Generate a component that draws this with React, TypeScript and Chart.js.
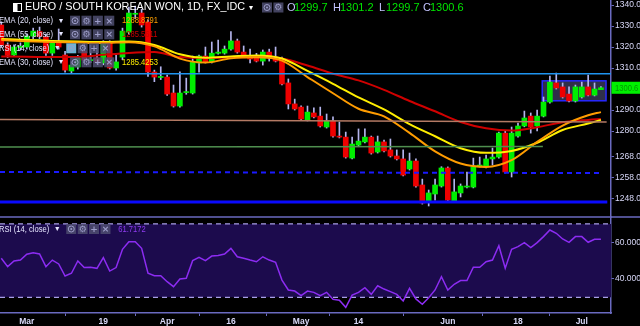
import React, { useEffect, useRef } from 'react';
import { Chart, registerables } from 'chart.js';

Chart.register(...registerables);

// ---- data (index 0 = 23 Feb 2018, daily, weekdays) ----
const openPrices = [
  1330.5, 1321, 1316.2, 1319.8, 1320, 1325.2, 1327.4, 1324.8, 1317.1, 1322.4,
  1316.2, 1308.6, 1310.5, 1318, 1313.5, 1314.8, 1312.4, 1321.9, 1310, 1315.2,
  1327.1, 1335.6, 1336.2, 1331.9, 1308.1, 1305.5, 1305.7, 1298.1, 1291.9, 1298.3,
  1298.1, 1312.4, 1315.7, 1312.9, 1317, 1317.1, 1319, 1322.9, 1317.6, 1315.2,
  1315.2, 1313.3, 1317.6, 1315.2, 1314.3, 1302.9, 1292.9, 1291.4, 1285.2, 1288.6,
  1287.1, 1281.9, 1284.8, 1277.6, 1277.1, 1267.1, 1273.3, 1274.8, 1277.1, 1270,
  1274.8, 1271, 1268.1, 1266.7, 1261.9, 1265.7, 1254.3, 1246.2, 1250, 1253.8,
  1262.4, 1246.7, 1250.5, 1253.3, 1253.3, 1263.3, 1262.9, 1266.7, 1267.6, 1279,
  1260.5, 1277.6, 1282.4, 1287.1, 1282.4, 1287.1, 1293.8, 1302.9, 1301, 1297.6,
  1294.3, 1296.2, 1301, 1297.1, 1299.7,
];
const highPrices = [
  1332, 1322, 1321, 1322, 1326, 1329, 1329.5, 1326, 1323, 1328.6,
  1318, 1313, 1316, 1322, 1321, 1321, 1323, 1323, 1316, 1329,
  1339, 1339.5, 1338, 1333, 1309, 1310.6, 1306.6, 1301.9, 1308.2, 1305.2,
  1315.7, 1316.2, 1320, 1322.4, 1323.3, 1320.5, 1327.3, 1323.8, 1320.5, 1319,
  1317, 1318.6, 1319, 1320, 1315.2, 1304.8, 1295.2, 1292, 1291.9, 1291,
  1291.4, 1288.1, 1286.7, 1284.3, 1279.5, 1277.1, 1281, 1281, 1277.6, 1277.6,
  1275.7, 1276.2, 1271, 1271, 1269.5, 1266.7, 1257.1, 1251.9, 1257.1, 1263,
  1262.9, 1257.1, 1254.8, 1260.5, 1267.1, 1267.6, 1268.6, 1271.9, 1279.5, 1280,
  1281.9, 1283.8, 1289.5, 1288.6, 1290, 1296.2, 1306.2, 1307.6, 1302.9, 1301,
  1301.9, 1303.3, 1306.7, 1302.9, 1301.2,
];
const lowPrices = [
  1320, 1315, 1315.5, 1318.5, 1319, 1324, 1324, 1316, 1316, 1319,
  1308, 1307.5, 1309.5, 1313, 1312.5, 1312, 1311.5, 1309.5, 1309, 1314,
  1326, 1333.5, 1329.5, 1306, 1303.5, 1304.5, 1297, 1291.4, 1291.4, 1297.5,
  1297.6, 1308, 1312.4, 1312.4, 1316.6, 1316.6, 1318.5, 1317.1, 1315.2, 1312.4,
  1312.9, 1311.4, 1313.3, 1312.9, 1301.9, 1290.5, 1290, 1285.2, 1284.8, 1286.2,
  1281.9, 1281.4, 1277.1, 1276.7, 1267.1, 1266.7, 1272.9, 1274.3, 1269, 1269.5,
  1270, 1267.6, 1266.2, 1258.6, 1261.4, 1253.3, 1245.2, 1244.3, 1247.1, 1253.3,
  1246.7, 1246.2, 1248.6, 1252.9, 1252.9, 1262.9, 1262.4, 1263.8, 1267.1, 1260,
  1258.1, 1277.1, 1282, 1279, 1280, 1286.7, 1293.3, 1300, 1295.7, 1293.8,
  1293.8, 1295.7, 1296.7, 1296.7, 1299.7,
];
const closePrices = [
  1321, 1316, 1320, 1320.4, 1325.2, 1327.6, 1325, 1317.1, 1321.9, 1320,
  1309, 1311.4, 1314.8, 1313.8, 1314, 1312.9, 1321.9, 1310, 1312.9, 1327.6,
  1336.2, 1336, 1330.5, 1308.1, 1305.7, 1305.9, 1297.6, 1291.9, 1298.1, 1298.6,
  1312.9, 1315.7, 1312.9, 1317.1, 1317.6, 1319, 1322.9, 1317.6, 1315.7, 1314.3,
  1313.3, 1317.6, 1315.7, 1313.3, 1302.4, 1292.9, 1290.5, 1285.7, 1289, 1286.7,
  1282.4, 1284.8, 1277.6, 1277.1, 1267.6, 1273.8, 1275.2, 1277.1, 1269.5, 1274.8,
  1270.5, 1268.1, 1266.7, 1259, 1265.7, 1253.8, 1245.7, 1250.5, 1254.3, 1262.4,
  1247.1, 1251, 1253.8, 1253.8, 1262.9, 1263.8, 1266.7, 1267.6, 1279, 1260.5,
  1279, 1282.4, 1286.2, 1281.9, 1287.1, 1293.8, 1303.3, 1300.5, 1296.2, 1294.3,
  1301, 1301, 1297.1, 1300, 1300.6,
];
const rsiValues = [
  51.3, 46.7, 49.8, 50.3, 53.5, 54.3, 53.6, 46.7, 50.3, 48.2,
  41.6, 43.1, 49.8, 46.2, 46.4, 45.8, 51.6, 44.3, 46.2, 56.2,
  60.3, 60.3, 56.7, 43.1, 41.8, 41.8, 38.5, 35.8, 40, 40.4,
  50, 51.8, 50, 52.5, 52.8, 53.6, 56.7, 52.1, 51.3, 50.3,
  49.4, 52.1, 50.3, 49.1, 39.4, 34, 33.4, 30.9, 33.4, 32.7,
  30.9, 32.7, 28.9, 28.4, 24.5, 31.2, 32.7, 35.2, 31.6, 36.3,
  34.5, 33.1, 31.6, 28, 34.9, 29.1, 26.2, 29.8, 34, 41.2,
  34, 37.1, 39.1, 39.1, 46.4, 46.4, 49.4, 50.3, 58.1, 45.8,
  56.2, 57.6, 59.8, 57.1, 59.8, 63.1, 66.7, 64.9, 61.8, 60,
  63.1, 63.1, 60, 61.6, 61.7,
];

const emaIndices = [0, 4, 8, 12, 16, 20, 24, 28, 32, 36, 40, 44, 48, 52, 56, 60, 64, 68, 72, 76, 80, 84, 88, 92, 94];
const ema20 = [1323.3, 1322.8, 1322.4, 1322.1, 1321.9, 1322.3, 1320.3, 1314.5, 1312.6, 1314.6, 1315.1, 1313.5, 1305.7, 1298, 1290.6, 1287, 1279.1, 1270.3, 1264.5, 1262.9, 1266.1, 1274.8, 1282.6, 1287.5, 1289];
const ema30 = [1323.8, 1323.4, 1322.9, 1322.6, 1322.4, 1322.6, 1321, 1316.6, 1314.9, 1315.5, 1316, 1314.5, 1308.6, 1302.5, 1296, 1290.3, 1283.3, 1277.5, 1271.8, 1269.6, 1270.5, 1274.4, 1280.5, 1283.6, 1285.3];
const ema55 = [1315.5, 1315.4, 1315.2, 1315.3, 1316.3, 1317.2, 1317.6, 1315.2, 1314.8, 1315, 1315.2, 1314.5, 1311.2, 1307.3, 1304.1, 1299.6, 1294.3, 1289.4, 1284.3, 1281.3, 1280.2, 1281.8, 1284.2, 1285.3, 1285.7];
const emaLegendValues = ['1288.8791', '1285.5611', '1285.4253'];
const rsiLegendValue = '61.7172';

const tickIndices = [4, 16, 26, 36, 47, 56, 70, 81, 91];
const tickLabels = ['Mar', '19', 'Apr', '16', 'May', '14', 'Jun', '18', 'Jul'];
const priceTicks = [1248, 1258, 1268, 1280, 1290, 1310, 1320, 1330, 1340];
const rsiTicks = [40, 60];
const rsiBand = [30, 70];

// drawn horizontal levels: start value, end value, end index
const levelStart = [1307.3, 1285.5, 1272.4, 1260.5, 1246.2];
const levelEnd = [1307.3, 1284.3, 1272.6, 1260.0, 1246.2];
const levelEndIndex = [95.6, 94.9, 84.9, 93.9, 95.0];
const zoneIndex = [84.8, 94.8];
const zonePrice = [1294.4, 1303.9];

const X_MIN = -0.2;
const X_MAX = 95.58;

const SANS = "'Liberation Sans', Arial, sans-serif";
const AXIS = '#6a6ac0';
const TXT = '#d8d8f8';
const NARROW_K = 0.8;

function narrowText(ctx: CanvasRenderingContext2D, text: string, x: number, y: number): number {
  ctx.save();
  ctx.translate(x, y);
  ctx.scale(NARROW_K, 1);
  ctx.fillText(text, 0, 0);
  const w = ctx.measureText(text).width * NARROW_K;
  ctx.restore();
  return w;
}

function drawBoxes(ctx: CanvasRenderingContext2D, x0: number, yc: number, count: number, highlight: boolean) {
  for (let i = 0; i < count; i++) {
    const bx = x0 + i * 11.4;
    ctx.fillStyle = highlight && i === 0 ? 'rgba(120,200,236,0.9)' : 'rgba(78,78,112,0.85)';
    ctx.fillRect(bx, yc - 5, 10, 10);
    const cx = bx + 5;
    ctx.strokeStyle = '#9c9cc8';
    ctx.fillStyle = '#9c9cc8';
    ctx.lineWidth = 1;
    if (i === 0) {
      ctx.beginPath();
      ctx.arc(cx, yc, 3, 0, Math.PI * 2);
      ctx.stroke();
      ctx.beginPath();
      ctx.arc(cx, yc, 1, 0, Math.PI * 2);
      ctx.fill();
    } else {
      const g = i === 1 ? '\u2699' : i === 2 ? '+' : '\u00d7';
      ctx.font = "bold 9px 'DejaVu Sans'";
      ctx.textAlign = 'center';
      ctx.textBaseline = 'middle';
      ctx.fillText(g, cx, yc + 0.5);
    }
  }
  ctx.textAlign = 'left';
}

function drawRow(ctx: CanvasRenderingContext2D, label: string, yc: number, value: string | null, valueColor: string, highlight: boolean) {
  ctx.font = `9.5px ${SANS}`;
  ctx.textAlign = 'left';
  ctx.textBaseline = 'middle';
  ctx.fillStyle = '#e6e6ff';
  const w = narrowText(ctx, label, -1, yc) - 1;
  ctx.font = "8px 'DejaVu Sans'";
  ctx.fillText('\u25be', w + 6, yc);
  const bx = w + 17;
  drawBoxes(ctx, bx, yc, 4, highlight);
  if (value) {
    ctx.font = `9.5px ${SANS}`;
    ctx.textAlign = 'left';
    ctx.textBaseline = 'middle';
    ctx.fillStyle = valueColor;
    narrowText(ctx, value, bx + 52, yc);
  }
}

const overlayPlugin = {
  id: 'overlay',
  beforeDatasetsDraw(chart: any) {
    const { ctx, chartArea: a, scales } = chart;
    const r = scales.rsi;
    const y = scales.y;
    const x = scales.x;
    ctx.save();
    const top = r.getPixelForValue(rsiBand[1]);
    const bot = r.getPixelForValue(rsiBand[0]);
    ctx.fillStyle = '#1c0b4d';
    ctx.fillRect(a.left, top, a.right - a.left, bot - top);
    ctx.strokeStyle = '#a89ee8';
    ctx.lineWidth = 1.2;
    ctx.setLineDash([5, 4]);
    for (const yy of [top, bot]) {
      ctx.beginPath();
      ctx.moveTo(a.left, yy);
      ctx.lineTo(a.right, yy);
      ctx.stroke();
    }
    ctx.setLineDash([]);
    const x1 = x.getPixelForValue(zoneIndex[0]);
    const x2 = x.getPixelForValue(zoneIndex[1]);
    const y1 = y.getPixelForValue(zonePrice[1]);
    const y2 = y.getPixelForValue(zonePrice[0]);
    ctx.fillStyle = 'rgba(72,72,112,0.65)';
    ctx.fillRect(x1, y1, x2 - x1, y2 - y1);
    ctx.strokeStyle = '#2828ff';
    ctx.lineWidth = 1.5;
    ctx.strokeRect(x1, y1, x2 - x1, y2 - y1);
    ctx.restore();
  },
  afterDraw(chart: any) {
    const { ctx, scales } = chart;
    const y = scales.y;
    ctx.save();
    // pane separator
    ctx.strokeStyle = AXIS;
    ctx.lineWidth = 1.5;
    ctx.beginPath();
    ctx.moveTo(0, y.bottom);
    ctx.lineTo(640, y.bottom);
    ctx.stroke();

    // title row
    ctx.strokeStyle = '#ffffff';
    ctx.fillStyle = '#ffffff';
    ctx.lineWidth = 1;
    ctx.strokeRect(13.5, 3.5, 8, 8);
    ctx.fillRect(13.5, 3.5, 4, 8);
    ctx.font = `10.8px ${SANS}`;
    ctx.textBaseline = 'middle';
    ctx.textAlign = 'left';
    ctx.fillText('EURO / SOUTH KOREAN WON, 1D, FX_IDC', 25, 7.5);
    ctx.font = "8px 'DejaVu Sans'";
    ctx.fillText('\u25be', 249, 7.5);
    drawBoxes(ctx, 262, 7.5, 2, false);
    const n = closePrices.length - 1;
    const ohlc: [string, number, number, number][] = [
      ['O', openPrices[n], 287, 294],
      ['H', highPrices[n], 333, 340],
      ['L', lowPrices[n], 379, 386],
      ['C', closePrices[n], 423, 430],
    ];
    ctx.font = `11px ${SANS}`;
    ctx.textBaseline = 'middle';
    ctx.textAlign = 'left';
    for (const [l, v, lx, vx] of ohlc) {
      ctx.fillStyle = '#c4c4ff';
      ctx.fillText(l, lx, 7.5);
      ctx.fillStyle = '#00e600';
      ctx.fillText(v.toFixed(1), vx, 7.5);
    }

    // indicator legend rows
    drawRow(ctx, 'EMA (20, close)', 20.7, emaLegendValues[0], '#ffa000', false);
    drawRow(ctx, 'EMA (55, close)', 34.3, emaLegendValues[1], '#cc0000', false);
    drawRow(ctx, 'RSI (14, close)', 48.3, null, '#ffffff', true);
    drawRow(ctx, 'EMA (30, close)', 62.3, emaLegendValues[2], '#ffee00', false);
    drawRow(ctx, 'RSI (14, close)', 229, rsiLegendValue, '#8f3cf0', false);

    // last price marker
    const py = y.getPixelForValue(closePrices[n]);
    ctx.fillStyle = '#00f000';
    ctx.fillRect(611.5, py - 6, 29, 12);
    ctx.fillStyle = '#009a00';
    ctx.font = `9.5px ${SANS}`;
    ctx.textBaseline = 'middle';
    narrowText(ctx, closePrices[n].toFixed(1), 615, py + 0.5);
    ctx.restore();
  },
};

export default function App() {
  const ref = useRef<HTMLCanvasElement>(null);
  useEffect(() => {
    const idx = closePrices.map((_, i) => i);
    const up = idx.map((i) => closePrices[i] >= openPrices[i]);
    const bodyColors = up.map((u) => (u ? '#00ee00' : '#ee0000'));
    const levelColors = ['#1e94f0', '#b47a64', '#4f8f4f', '#1a1aff', '#0a0aff'];
    const levelWidths = [1.5, 1.5, 1.5, 2, 3];
    const levelDash = [[], [], [], [5, 4], []];
    const levelSets = levelStart.map((s, i) => ({
      type: 'line' as const,
      data: [{ x: X_MIN, y: s }, { x: levelEndIndex[i], y: levelEnd[i] }],
      borderColor: levelColors[i],
      borderWidth: levelWidths[i],
      borderDash: levelDash[i],
      pointRadius: 0,
      tension: 0,
      yAxisID: 'y',
      order: 0,
    }));
    const emaSet = (vals: number[], color: string) => ({
      type: 'line' as const,
      data: emaIndices.map((k, i) => ({ x: k, y: vals[i] })),
      borderColor: color,
      borderWidth: 2,
      pointRadius: 0,
      cubicInterpolationMode: 'monotone' as const,
      yAxisID: 'y',
      order: 1,
    });
    const noPad = (s: any) => {
      s.paddingTop = 0;
      s.paddingBottom = 0;
      s.paddingLeft = 0;
      s.paddingRight = 0;
    };
    const chart = new Chart(ref.current as HTMLCanvasElement, {
      type: 'bar',
      data: {
        datasets: [
          ...levelSets,
          emaSet(ema20, '#ff9c00'),
          emaSet(ema30, '#ffee00'),
          emaSet(ema55, '#d00000'),
          {
            type: 'bar',
            data: idx.map((i) => ({ x: i, y: [openPrices[i], closePrices[i]] })),
            backgroundColor: bodyColors,
            barThickness: 5,
            minBarLength: 1,
            grouped: false,
            borderWidth: 0,
            yAxisID: 'y',
            order: 2,
          },
          {
            type: 'bar',
            data: idx.map((i) => ({ x: i, y: [lowPrices[i], highPrices[i]] })),
            backgroundColor: '#b4b4ec',
            barThickness: 1,
            grouped: false,
            borderWidth: 0,
            yAxisID: 'y',
            order: 3,
          },
          {
            type: 'line',
            data: idx.map((i) => ({ x: i, y: rsiValues[i] })),
            borderColor: '#8c2cf2',
            borderWidth: 1.5,
            pointRadius: 0,
            tension: 0,
            yAxisID: 'rsi',
            order: 1,
          },
        ] as any,
      },
      options: {
        responsive: false,
        animation: false,
        devicePixelRatio: 1,
        events: [],
        layout: { padding: 0 },
        plugins: { legend: { display: false }, tooltip: { enabled: false } },
        scales: {
          x: {
            type: 'linear',
            min: X_MIN,
            max: X_MAX,
            offset: false,
            afterBuildTicks: (s: any) => {
              s.ticks = tickIndices.map((v) => ({ value: v }));
            },
            ticks: {
              autoSkip: false,
              maxRotation: 0,
              padding: 1,
              color: TXT,
              font: { family: SANS, size: 8.5, weight: 'bold' },
              callback: (_v: any, i: number) => tickLabels[i] ?? '',
            },
            grid: { drawOnChartArea: false, drawTicks: true, tickLength: 3, color: AXIS },
            border: { display: true, color: AXIS, width: 1.5 },
            afterFit: (s: any) => {
              s.height = 13;
              noPad(s);
            },
          },
          y: {
            type: 'linear',
            position: 'right',
            stack: 'panes',
            stackWeight: 217,
            min: 1239.05,
            max: 1342.4,
            afterBuildTicks: (s: any) => {
              s.ticks = priceTicks.map((v) => ({ value: v }));
            },
            ticks: {
              autoSkip: false,
              padding: 1,
              color: TXT,
              font: { family: SANS, size: 8.5 },
              callback: (v: any) => Number(v).toFixed(1),
            },
            grid: { drawOnChartArea: false, drawTicks: true, tickLength: 3, color: AXIS },
            border: { display: true, color: AXIS, width: 1.5 },
            afterFit: (s: any) => {
              s.width = 29;
              noPad(s);
            },
          },
          rsi: {
            type: 'linear',
            position: 'right',
            stack: 'panes',
            stackWeight: 96,
            min: 21.43,
            max: 73.8,
            afterBuildTicks: (s: any) => {
              s.ticks = rsiTicks.map((v) => ({ value: v }));
            },
            ticks: {
              autoSkip: false,
              padding: 1,
              color: TXT,
              font: { family: SANS, size: 8.5 },
              callback: (v: any) => Number(v).toFixed(4),
            },
            grid: { drawOnChartArea: false, drawTicks: true, tickLength: 3, color: AXIS },
            border: { display: true, color: AXIS, width: 1.5 },
            afterFit: (s: any) => {
              s.width = 29;
              noPad(s);
            },
          },
        },
      } as any,
      plugins: [overlayPlugin],
    });
    return () => chart.destroy();
  }, []);
  return (
    <div style={{ position: 'fixed', left: 0, top: 0, width: 640, height: 326, background: '#000' }}>
      <canvas ref={ref} width={640} height={326} style={{ display: 'block', width: 640, height: 326 }} />
    </div>
  );
}
